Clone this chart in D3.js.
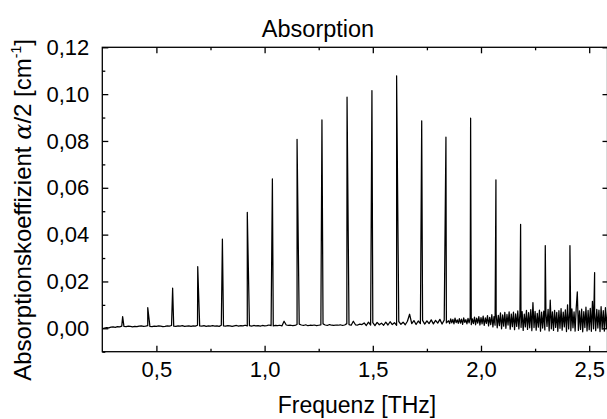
<!DOCTYPE html>
<html>
<head>
<meta charset="utf-8">
<script src="https://cdn.jsdelivr.net/npm/d3@7"></script>
<style>
  body { margin: 0; background: #fff; }
  svg { display: block; }
  text { font-family: "Liberation Sans", Arial, sans-serif; fill: #000; }
</style>
</head>
<body>
<svg id="chart" width="607" height="419"></svg>
<script>
// Absorption lines: centre frequency [THz] and peak value [cm^-1]
const peakFreq = [0.344, 0.460, 0.575, 0.691, 0.805, 0.920, 1.036, 1.150, 1.265, 1.381,
                  1.496, 1.610, 1.726, 1.838, 1.952, 2.069, 2.183, 2.297, 2.411, 2.525];
const peakHeight = [0.0050, 0.0088, 0.0171, 0.0263, 0.0381, 0.0495, 0.0638, 0.0807, 0.0890, 0.0987,
                    0.1015, 0.1078, 0.0886, 0.0816, 0.0897, 0.0634, 0.0444, 0.0353, 0.0353, 0.0238];

// Baseline between the lines, in units of 1e-3 cm^-1
// low-noise part: 0.25 THz onward, 0.01 THz steps
const quietStart = 0.25, quietStep = 0.01;
const baselineQuiet = [
  -0.2,0.1,0.3,0.2,0.5,0.6,0.4,0.7,0.6,0.9,0.8,
  0.7,0.9,0.8,0.6,0.8,0.7,0.9,1.0,0.8,0.9,
  1.1,0.8,0.7,0.9,0.8,1.0,0.9,0.7,0.8,1.0,
  0.9,1.2,0.9,0.8,1.0,0.9,1.1,0.8,0.9,1.0,
  0.8,1.0,0.9,1.3,1.0,0.9,1.1,0.8,1.0,0.9,
  1.1,0.9,1.0,0.8,1.3,1.0,0.9,1.1,1.0,0.8,
  1.0,1.2,0.9,1.1,1.0,1.3,1.0,1.1,0.9,1.2,
  1.0,1.1,0.9,1.2,1.0,1.1,1.4,1.1,1.0,1.2,
  1.1,1.3,1.0,3.0,1.4,1.2,1.3,1.1,1.2,1.6,
  1.8,1.4,1.2,1.5,1.1,1.3,1.2,1.4,1.1,1.3,
  1.5,1.9,1.4,1.2,1.6,1.3,1.2,1.4,1.3,1.5,
  1.2,1.4,2.0,1.6,1.3,3.0,1.5,1.4,1.8,1.6,
  2.3,1.2,2.6,1.4,2.4,1.1,2.5,1.5,2.2,1.3,
  2.6,1.4,2.8,1.6,2.4,1.3,2.9,1.7,2.6,1.5,
  3.0,6.0,2.0,3.3,1.6,3.1,2.0,3.4,1.8,3.2,
  2.0,3.6,1.9,3.4,2.2,3.8,1.8,3.5,2.3
];
// noisy high-frequency part: 1.85 THz onward, 0.005 THz steps
const noisyStart = 1.85, noisyStep = 0.005;
const baselineNoisy = [
  3.2,2.0,4.0,2.3,3.8,1.9,4.3,2.4,3.6,2.1,
  4.1,2.2,3.9,1.7,4.4,2.5,3.7,1.9,4.2,2.3,
  4.5,1.6,4.0,2.0,4.8,1.5,4.3,2.2,5.0,1.4,
  4.6,1.9,5.2,1.2,4.4,2.1,5.4,1.0,4.7,1.6,
  5.8,0.6,5.0,1.3,6.3,0.2,5.5,1.1,6.6,-0.2,
  5.7,0.9,6.8,0.0,5.9,1.4,7.0,-0.4,6.1,0.7,
  6.9,-0.6,6.2,0.8,7.4,-0.3,6.5,0.4,7.1,-0.9,
  6.0,0.6,7.6,-0.5,6.7,0.2,8.0,-1.0,11.0,0.3,
  7.2,-0.8,6.4,0.5,7.8,-1.2,6.9,0.1,7.3,-0.7,
  6.6,0.8,8.1,-1.1,12.0,-0.2,7.0,-0.9,7.7,0.4,
  6.8,-1.3,7.5,0.0,8.4,-0.8,6.9,0.6,7.9,-1.4,
  10.0,-0.3,7.2,-1.0,8.3,0.2,7.0,-1.2,8.6,15.5,
  -0.9,7.4,-0.5,8.2,-1.5,7.1,0.3,9.0,-1.1,7.6,
  -0.6,8.5,-1.3,11.5,-0.2,7.3,-1.0,8.1,0.1,7.8,
  -1.4,9.2,-0.4,7.5,-1.2,8.8,0.0,7.2
];

const xTickValues = [0.5, 1.0, 1.5, 2.0, 2.5];
const xMinorValues = [0.75, 1.25, 1.75, 2.25];
const yTickValues = [0.00, 0.02, 0.04, 0.06, 0.08, 0.10, 0.12];
const yMinorValues = [-0.01, 0.01, 0.03, 0.05, 0.07, 0.09, 0.11];

// ---- assemble the spectrum ----
const spectrum = [];
baselineQuiet.forEach((v, i) => {
  const f = quietStart + i * quietStep;
  if (f < noisyStart - 1e-9) spectrum.push([f, v / 1000]);
});
baselineNoisy.forEach((v, i) => spectrum.push([noisyStart + i * noisyStep, v / 1000]));
peakFreq.forEach((f, i) => spectrum.push([f, peakHeight[i]]));
spectrum.sort((a, b) => a[0] - b[0]);

// ---- layout ----
const svg = d3.select("#chart");
const plotL = 102.3, plotR = 607.5, plotT = 47.3, plotB = 351.7;

const x = d3.scaleLinear().domain([0.25, 0.25 + (plotR - plotL) / 216.4]).range([plotL, plotR]);
const y = d3.scaleLinear().domain([-0.01, 0.12]).range([plotB, plotT]);

const fmt = d3.format(".2f");
const comma = s => s.replace(".", ",");

// spectrum line
svg.append("clipPath").attr("id", "plotClip")
  .append("rect").attr("x", plotL).attr("y", plotT).attr("width", plotR - plotL).attr("height", plotB - plotT);

svg.append("path")
  .datum(spectrum)
  .attr("clip-path", "url(#plotClip)")
  .attr("fill", "none")
  .attr("stroke", "#000")
  .attr("stroke-width", 1.25)
  .attr("stroke-linejoin", "round")
  .attr("d", d3.line().x(d => x(d[0])).y(d => y(d[1])));

// frame
svg.append("rect")
  .attr("x", plotL).attr("y", plotT)
  .attr("width", plotR - plotL).attr("height", plotB - plotT)
  .attr("fill", "none").attr("stroke", "#000").attr("stroke-width", 1.3);

const styleAxis = g => {
  g.select(".domain").remove();
  g.selectAll(".tick line").attr("stroke", "#000").attr("stroke-width", 1.3);
};

// bottom axis (ticks point inward)
svg.append("g").attr("transform", `translate(0,${plotB})`)
  .call(d3.axisBottom(x).tickValues(xTickValues).tickSizeInner(-6).tickSizeOuter(0)
    .tickPadding(10).tickFormat(d => comma(d3.format(".1f")(d))))
  .call(styleAxis)
  .call(g => g.selectAll("text").attr("font-size", 22).attr("font-family", null));
svg.append("g").attr("transform", `translate(0,${plotB})`)
  .call(d3.axisBottom(x).tickValues(xMinorValues).tickSizeInner(-3).tickSizeOuter(0).tickFormat(""))
  .call(styleAxis);

// top axis
svg.append("g").attr("transform", `translate(0,${plotT})`)
  .call(d3.axisTop(x).tickValues(xTickValues).tickSizeInner(-6).tickSizeOuter(0).tickFormat(""))
  .call(styleAxis);
svg.append("g").attr("transform", `translate(0,${plotT})`)
  .call(d3.axisTop(x).tickValues(xMinorValues).tickSizeInner(-3).tickSizeOuter(0).tickFormat(""))
  .call(styleAxis);

// left axis
svg.append("g").attr("transform", `translate(${plotL},0)`)
  .call(d3.axisLeft(y).tickValues(yTickValues).tickSizeInner(-6).tickSizeOuter(0)
    .tickPadding(13).tickFormat(d => comma(fmt(d))))
  .call(styleAxis)
  .call(g => g.selectAll("text").attr("font-size", 22).attr("font-family", null));
svg.append("g").attr("transform", `translate(${plotL},0)`)
  .call(d3.axisLeft(y).tickValues(yMinorValues).tickSizeInner(-3).tickSizeOuter(0).tickFormat(""))
  .call(styleAxis);

// right axis
svg.append("g").attr("transform", `translate(${plotR},0)`)
  .call(d3.axisRight(y).tickValues(yTickValues).tickSizeInner(-5).tickSizeOuter(0).tickFormat(""))
  .call(styleAxis);

// titles
svg.append("text")
  .attr("x", 318).attr("y", 37)
  .attr("text-anchor", "middle")
  .attr("font-size", 23.5)
  .text("Absorption");

svg.append("text")
  .attr("x", 357).attr("y", 413)
  .attr("text-anchor", "middle")
  .attr("font-size", 23)
  .text("Frequenz [THz]");

const yTitle = svg.append("text")
  .attr("transform", "translate(31,210) rotate(-90)")
  .attr("text-anchor", "middle")
  .attr("font-size", 24);
yTitle.append("tspan").text("Absorptionskoeffizient ");
yTitle.append("tspan").attr("font-style", "italic").attr("font-family", "'DejaVu Serif', serif").text("α");
yTitle.append("tspan").text("/2 [cm");
yTitle.append("tspan").attr("font-size", 14).attr("dy", -10).text("-1");
yTitle.append("tspan").attr("dy", 10).text("]");
</script>
</body>
</html>
